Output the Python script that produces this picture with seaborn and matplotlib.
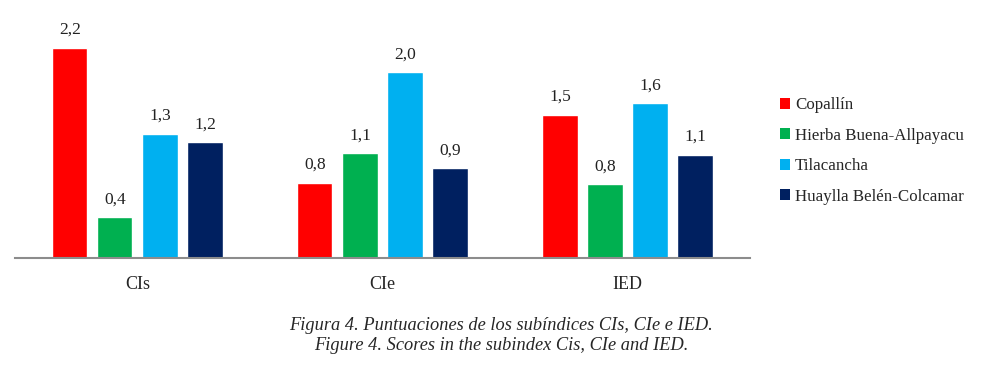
import pandas as pd
import matplotlib.pyplot as plt
from matplotlib.patches import Patch
import seaborn as sns

# ── Data ─────────────────────────────────────────────────────────────────────
subindices = ["CIs", "CIe", "IED"]
sites = ["Copallín", "Hierba Buena-Allpayacu", "Tilacancha", "Huaylla Belén-Colcamar"]
# bar heights
copallin   = [2.20, 0.79, 1.50]
hierba     = [0.43, 1.10, 0.77]
tilacancha = [1.30, 1.945, 1.62]
huaylla    = [1.21, 0.94, 1.08]
# printed labels
copallin_lbl   = ["2,2", "0,8", "1,5"]
hierba_lbl     = ["0,4", "1,1", "0,8"]
tilacancha_lbl = ["1,3", "2,0", "1,6"]
huaylla_lbl    = ["1,2", "0,9", "1,1"]
colors = ["#FF0000", "#00B050", "#00B0F0", "#002060"]

rows = []
for site, vals in zip(sites, [copallin, hierba, tilacancha, huaylla]):
    for sub, v in zip(subindices, vals):
        rows.append({"Subindice": sub, "Sitio": site, "Valor": v})
df = pd.DataFrame(rows)
labels = [copallin_lbl, hierba_lbl, tilacancha_lbl, huaylla_lbl]

# ── Plot ─────────────────────────────────────────────────────────────────────
sns.set_theme(style="white")
plt.rcParams["font.family"] = ["Liberation Serif", "DejaVu Serif"]

fig = plt.figure(figsize=(9.96, 3.73), dpi=100)
ax = fig.add_axes([0.015, 0.308, 0.738, 0.641])

sns.barplot(data=df, x="Subindice", y="Valor", hue="Sitio", order=subindices,
            hue_order=sites, palette=colors, width=0.735, gap=0.22,
            saturation=1, ax=ax, legend=False)

for cont, lbl in zip(ax.containers, labels):
    ax.bar_label(cont, labels=lbl, padding=7, fontsize=12.5, color="#222222")

ax.set_ylim(0, 2.5)
ax.set_xlim(-0.5, 2.5)
ax.set_xlabel(""); ax.set_ylabel("")
ax.set_yticks([])
ax.tick_params(axis="x", length=0, pad=13, labelsize=13)
for side in ["top", "right", "left"]:
    ax.spines[side].set_visible(False)
ax.spines["bottom"].set_color("#8c8c8c")
ax.spines["bottom"].set_linewidth(1.5)

handles = [Patch(facecolor=c, edgecolor="none") for c in colors]
fig.legend(handles, sites, loc="upper left", bbox_to_anchor=(0.776, 0.757),
           frameon=False, fontsize=12.2, handlelength=0.6, handleheight=0.6,
           handletextpad=0.3, labelspacing=0.85, borderaxespad=0)

fig.text(0.503, 0.128, "Figura 4. Puntuaciones de los subíndices CIs, CIe e IED.",
         ha="center", va="center", fontsize=13.2, style="italic")
fig.text(0.503, 0.073, "Figure 4. Scores in the subindex Cis, CIe and IED.",
         ha="center", va="center", fontsize=13.2, style="italic")

plt.savefig("out.png", dpi=100, facecolor="white")
